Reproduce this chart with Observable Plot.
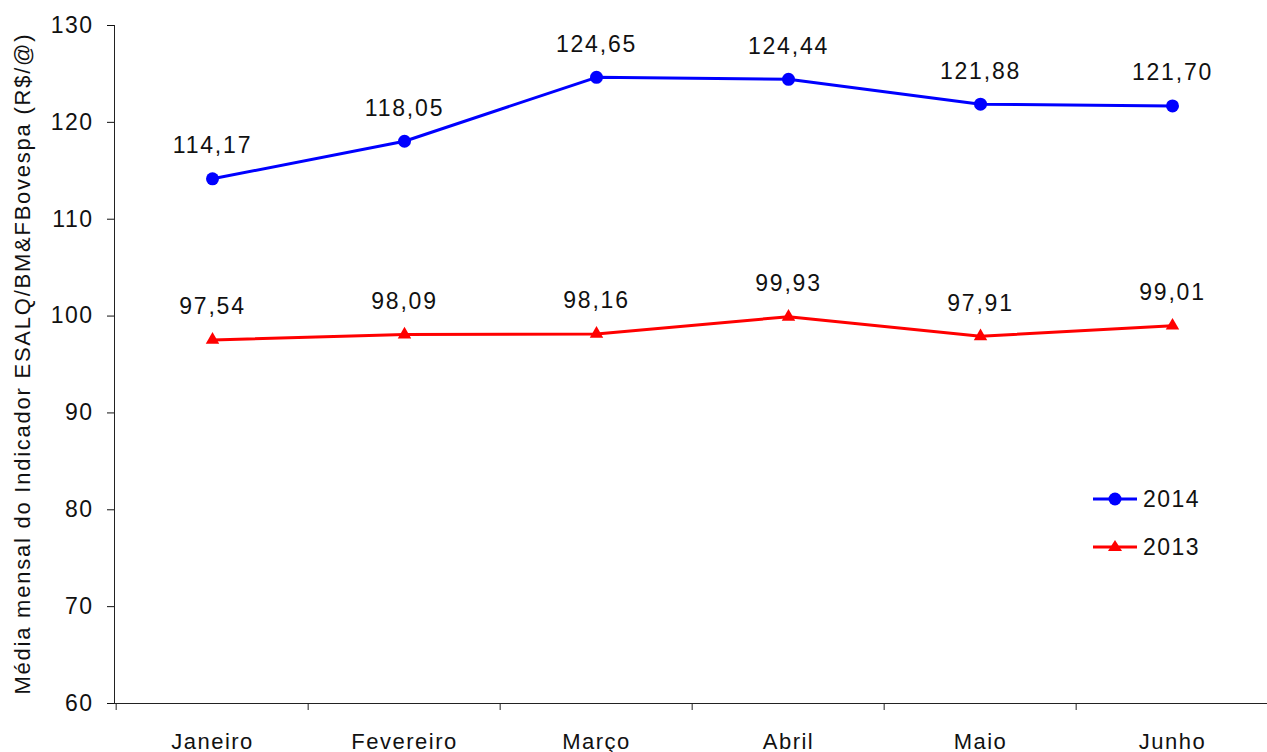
<!DOCTYPE html>
<html><head><meta charset="utf-8">
<script src="https://cdn.jsdelivr.net/npm/d3@7"></script>
<script src="https://cdn.jsdelivr.net/npm/@observablehq/plot@0.6"></script>
<style>
body{margin:0;background:#fff;}
#wrap{position:relative;width:1267px;height:752px;font-family:"Liberation Sans",Arial,sans-serif;}
#wrap svg text{letter-spacing:1.5px}
#wrap g[aria-label="y-axis tick label"]{font-size:23px}
#wrap g.vals text{letter-spacing:1.8px}
.leg{position:absolute;left:1093px;display:flex;align-items:center;font-size:23px;letter-spacing:1.5px;color:#111;}
.leg svg{margin-right:6px}
</style></head><body><div id="wrap"></div>
<script>
const months = ["Janeiro","Fevereiro","Março","Abril","Maio","Junho"];
const values2014 = [114.17,118.05,124.65,124.44,121.88,121.70];
const values2013 = [97.54,98.09,98.16,99.93,97.91,99.01];
const series = ["2014","2013"];
const colors = ["#0000ff","#ff0000"];
const yTicks = [60,70,80,90,100,110,120,130];
const yLabel = "Média mensal do Indicador ESALQ/BM&FBovespa (R$/@)";

const data = [
  ...months.map((m,i)=>({month:m, value:values2014[i], series:"2014"})),
  ...months.map((m,i)=>({month:m, value:values2013[i], series:"2013"}))
];
const fmt = v => v.toFixed(2).replace(".", ",");
const xRange = [114, 1270];
const bw = (xRange[1]-xRange[0])/months.length;

const chart = Plot.plot({
  width:1267, height:752, marginLeft:114, marginRight:0, marginTop:25, marginBottom:49,
  style:{fontFamily:'"Liberation Sans", Arial, sans-serif', background:"white", overflow:"visible"},
  x:{type:"band", domain:months, range:xRange, padding:0},
  y:{domain:[60,130]},
  color:{domain:series, range:colors},
  marks:[
    Plot.frame({anchor:"left", stroke:"#222"}),
    Plot.frame({anchor:"bottom", stroke:"#222"}),
    Plot.axisY({ticks:yTicks, tickSize:7, tickPadding:14, fontSize:23, label:null, color:"#111"}),
    Plot.axisX({tickSize:7, dx:-bw/2, tickFormat:()=>"", label:null, color:"#222"}),
    Plot.axisX({tickSize:0, tickPadding:30, fontSize:22, label:null, color:"#111"}),
    Plot.text([yLabel], {text:d=>d, frameAnchor:"left", textAnchor:"middle", dx:-92, rotate:-90, fontSize:22, fill:"#111", className:"ylab"}),
    Plot.line(data, {x:"month", y:"value", z:"series", stroke:"series", strokeWidth:3}),
    Plot.dot(data.filter(d=>d.series==="2014"), {x:"month", y:"value", fill:"series", r:6.5, symbol:"circle"}),
    Plot.dot(data.filter(d=>d.series==="2013"), {x:"month", y:"value", fill:"series", r:5, symbol:"triangle"}),
    Plot.text(data, {x:"month", y:"value", text:d=>fmt(d.value), dy:-33, fontSize:23, fill:"#111", className:"vals"})
  ]
});
const wrap = document.getElementById("wrap");
wrap.appendChild(chart);
const yl = chart.querySelector("g.ylab text");
if (yl) { yl.setAttribute("textLength", "660"); yl.setAttribute("lengthAdjust", "spacing"); yl.style.letterSpacing = "0px"; }

const legTop = [484, 532];
series.forEach((s,i)=>{
  const div = document.createElement("div");
  div.className = "leg";
  div.style.top = legTop[i] + "px";
  const sym = i===0
    ? `<circle cx="22" cy="15" r="6.5" fill="${colors[i]}"/>`
    : `<path d="M22,8 L29,19 L15,19 Z" fill="${colors[i]}"/>`;
  div.innerHTML = `<svg width="44" height="30"><line x1="0" x2="44" y1="15" y2="15" stroke="${colors[i]}" stroke-width="3"/>${sym}</svg><span>${s}</span>`;
  wrap.appendChild(div);
});
</script></body></html>
